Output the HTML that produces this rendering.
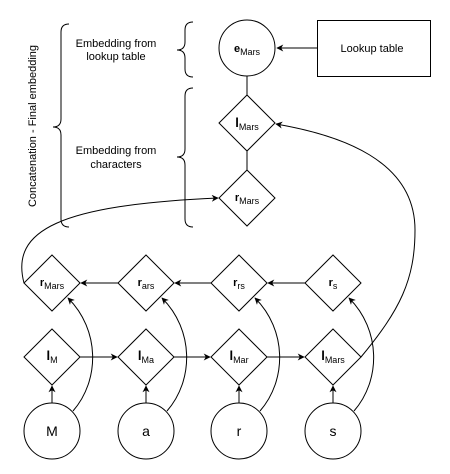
<!DOCTYPE html>
<html><head><style>
body{margin:0;background:#fff}
svg{display:block}
text{font-family:"Liberation Sans",Arial,sans-serif;fill:#000}
</style></head><body>
<svg width="450" height="474" viewBox="0 0 450 474" xmlns="http://www.w3.org/2000/svg">
<defs>
<marker id="a" viewBox="0 0 10 10" refX="9" refY="5" markerWidth="7" markerHeight="7" orient="auto-start-reverse" markerUnits="userSpaceOnUse">
<path d="M0,0 L10,5 L0,10 L3,5 z" fill="#000"/>
</marker>
</defs>
<g fill="none" stroke="#000" stroke-width="1">
<!-- braces -->
<path d="M69,24 Q61,24 61,32 L61,119 Q61,127 53,127 Q61,127 61,135 L61,219 Q61,227 69,227"/>
<path d="M193,22 Q185,22 185,30 L185,42 Q185,50 177,50 Q185,50 185,58 L185,69 Q185,77 193,77"/>
<path d="M193,88 Q185,88 185,96 L185,149 Q185,157 177,157 Q185,157 185,165 L185,219 Q185,227 193,227"/>
<!-- top -->
<circle cx="247" cy="48" r="28"/>
<rect x="317.5" y="20.5" width="113" height="56"/>
<line x1="317" y1="48" x2="277" y2="48" marker-end="url(#a)"/>
<line x1="247" y1="76" x2="247" y2="95"/>
<path d="M247,95 L275,123 L247,151 L219,123 Z"/>
<line x1="247" y1="151" x2="247" y2="170"/>
<path d="M247,170 L275,198 L247,226 L219,198 Z"/>
<!-- r row -->
<path d="M52,255 L80,283 L52,311 L24,283 Z"/>
<path d="M146,255 L174,283 L146,311 L118,283 Z"/>
<path d="M239,255 L267,283 L239,311 L211,283 Z"/>
<path d="M333,255 L361,283 L333,311 L305,283 Z"/>
<line x1="305" y1="283" x2="268" y2="283" marker-end="url(#a)"/>
<line x1="211" y1="283" x2="175" y2="283" marker-end="url(#a)"/>
<line x1="118" y1="283" x2="81" y2="283" marker-end="url(#a)"/>
<!-- l row -->
<path d="M52,329 L80,357 L52,385 L24,357 Z"/>
<path d="M146,329 L174,357 L146,385 L118,357 Z"/>
<path d="M239,329 L267,357 L239,385 L211,357 Z"/>
<path d="M333,329 L361,357 L333,385 L305,357 Z"/>
<line x1="80" y1="357" x2="117" y2="357" marker-end="url(#a)"/>
<line x1="174" y1="357" x2="210" y2="357" marker-end="url(#a)"/>
<line x1="267" y1="357" x2="304" y2="357" marker-end="url(#a)"/>
<!-- circles -->
<circle cx="52" cy="431" r="28"/>
<circle cx="146" cy="431" r="28"/>
<circle cx="239" cy="431" r="28"/>
<circle cx="333" cy="431" r="28"/>
<line x1="52" y1="403" x2="52" y2="386" marker-end="url(#a)"/>
<line x1="146" y1="403" x2="146" y2="386" marker-end="url(#a)"/>
<line x1="239" y1="403" x2="239" y2="386" marker-end="url(#a)"/>
<line x1="333" y1="403" x2="333" y2="386" marker-end="url(#a)"/>
<!-- curves circle -> r -->
<path d="M73,411 C100,380 100,330 68,298" marker-end="url(#a)"/>
<path d="M167,411 C194,380 194,330 162,298" marker-end="url(#a)"/>
<path d="M260,411 C287,380 287,330 255,298" marker-end="url(#a)"/>
<path d="M354,411 C381,380 381,330 349,298" marker-end="url(#a)"/>
<!-- long curves -->
<path d="M24,283 C10,230 60,205 218,198" marker-end="url(#a)"/>
<path d="M361,357 C400,310 415,280 415,230 C415,160 340,135 276,124" marker-end="url(#a)"/>
</g>
<g font-size="11" text-anchor="middle">
<text x="116" y="47">Embedding from</text>
<text x="116" y="60">lookup table</text>
<text x="116" y="154">Embedding from</text>
<text x="116" y="168">characters</text>
<text x="372" y="52">Lookup table</text>
<text transform="translate(36,126) rotate(-90)">Concatenation - Final embedding</text>
</g>
<g font-size="11" text-anchor="middle">
<text x="247" y="52"><tspan font-weight="bold">e</tspan><tspan font-size="9" dy="3">Mars</tspan></text>
<text x="247" y="127"><tspan font-size="13" font-weight="bold">l</tspan><tspan font-size="9" dy="3">Mars</tspan></text>
<text x="247" y="201"><tspan font-weight="bold">r</tspan><tspan font-size="9" dy="3">Mars</tspan></text>
<text x="52" y="286"><tspan font-weight="bold">r</tspan><tspan font-size="9" dy="3">Mars</tspan></text>
<text x="146" y="286"><tspan font-weight="bold">r</tspan><tspan font-size="9" dy="3">ars</tspan></text>
<text x="239" y="286"><tspan font-weight="bold">r</tspan><tspan font-size="9" dy="3">rs</tspan></text>
<text x="333" y="286"><tspan font-weight="bold">r</tspan><tspan font-size="9" dy="3">s</tspan></text>
<text x="52" y="360"><tspan font-size="13" font-weight="bold">l</tspan><tspan font-size="9" dy="3">M</tspan></text>
<text x="146" y="360"><tspan font-size="13" font-weight="bold">l</tspan><tspan font-size="9" dy="3">Ma</tspan></text>
<text x="239" y="360"><tspan font-size="13" font-weight="bold">l</tspan><tspan font-size="9" dy="3">Mar</tspan></text>
<text x="333" y="360"><tspan font-size="13" font-weight="bold">l</tspan><tspan font-size="9" dy="3">Mars</tspan></text>
<text x="52" y="436" font-size="14">M</text>
<text x="146" y="436" font-size="14">a</text>
<text x="239" y="436" font-size="14">r</text>
<text x="333" y="436" font-size="14">s</text>
</g>
</svg>
</body></html>
